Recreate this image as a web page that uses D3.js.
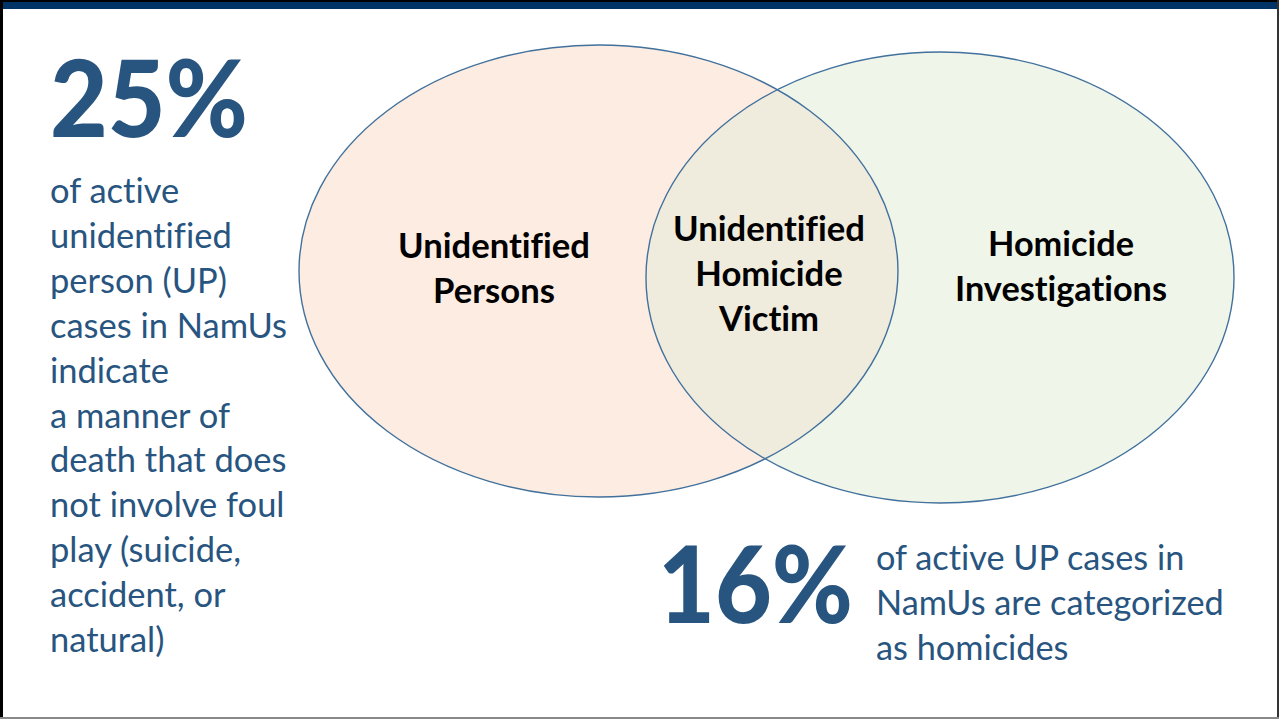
<!DOCTYPE html>
<html>
<head>
<meta charset="utf-8">
<script src="https://cdn.jsdelivr.net/npm/d3@7"></script>
<style>
  html, body { margin: 0; padding: 0; background: #fff; }
  svg { display: block; }
  text { font-variant-ligatures: none; font-feature-settings: "liga" 0, "clig" 0, "dlig" 0; }
</style>
</head>
<body>
<svg id="chart" width="1279" height="719"></svg>
<script>
// ---- data ----
const setNames = ["Unidentified Persons", "Homicide Investigations"];
const setLines = [["Unidentified", "Persons"], ["Homicide", "Investigations"]];
const overlapLines = ["Unidentified", "Homicide", "Victim"];
const statValues = [25, 16];
const statLeftText = ["of active", "unidentified", "person (UP)", "cases in NamUs", "indicate",
  "a manner of", "death that does", "not involve foul", "play (suicide,", "accident, or", "natural)"];
const statRightText = ["of active UP cases in", "NamUs are categorized", "as homicides"];

// ---- layout ----
const W = 1279, H = 719;
const svg = d3.select("#chart");
const textColor = "#28557f";
const stroke = "#41719c";
const fills = ["#fcece2", "#f0f5ea"];
const overlapFill = "#efebdd";

// venn geometry: normalized bounding boxes mapped through scales
const x = d3.scaleLinear().domain([0, 1]).range([299, 1234]);
const y = d3.scaleLinear().domain([0, 1]).range([45, 503]);
const boxes = [
  { x0: 0, x1: 0.6406, y0: 0, y1: 0.9869 },
  { x0: 0.3711, x1: 1, y0: 0.0153, y1: 1 }
];
const ellipses = boxes.map(b => ({
  cx: (x(b.x0) + x(b.x1)) / 2, cy: (y(b.y0) + y(b.y1)) / 2,
  rx: (x(b.x1) - x(b.x0)) / 2, ry: (y(b.y1) - y(b.y0)) / 2
}));

svg.append("rect").attr("x", 0).attr("y", 0).attr("width", W).attr("height", H).attr("fill", "#fff");

const defs = svg.append("defs");
defs.append("clipPath").attr("id", "clipLeft")
  .append("ellipse")
  .attr("cx", ellipses[0].cx).attr("cy", ellipses[0].cy)
  .attr("rx", ellipses[0].rx).attr("ry", ellipses[0].ry);

const g = svg.append("g");
g.selectAll("ellipse.fill").data(ellipses).join("ellipse")
  .attr("class", "fill")
  .attr("cx", d => d.cx).attr("cy", d => d.cy)
  .attr("rx", d => d.rx).attr("ry", d => d.ry)
  .attr("fill", (d, i) => fills[i]);
g.append("ellipse")
  .attr("clip-path", "url(#clipLeft)")
  .attr("cx", ellipses[1].cx).attr("cy", ellipses[1].cy)
  .attr("rx", ellipses[1].rx).attr("ry", ellipses[1].ry)
  .attr("fill", overlapFill);
g.selectAll("ellipse.edge").data(ellipses).join("ellipse")
  .attr("class", "edge")
  .attr("cx", d => d.cx).attr("cy", d => d.cy)
  .attr("rx", d => d.rx).attr("ry", d => d.ry)
  .attr("fill", "none").attr("stroke", stroke).attr("stroke-width", 1.4);

function fit(sel, width) {
  const base = parseFloat(sel.attr("font-size"));
  const w = sel.node().getComputedTextLength();
  sel.attr("font-size", base * width / w);
  return base * width / w;
}
const FONT = "Lato, 'Open Sans', sans-serif";

function labelBlock(lines, cx, baselines, fitWidth, fitIdx) {
  const probe = svg.append("text").attr("font-family", FONT).attr("font-weight", 700)
    .attr("font-size", 30).text(lines[fitIdx]);
  const fs = fit(probe, fitWidth);
  probe.remove();
  svg.append("g").selectAll("text").data(lines).join("text")
    .attr("x", cx).attr("y", (d, i) => baselines[i])
    .attr("text-anchor", "middle")
    .attr("font-family", FONT).attr("font-weight", 700)
    .attr("font-size", fs).attr("fill", "#000")
    .text(d => d);
}
labelBlock(setLines[0], 494, [258, 303], 192, 0);
labelBlock(overlapLines, 769, [241, 286, 331], 192, 0);
labelBlock(setLines[1], 1061, [256, 301], 212, 1);

// big stats: height from font-size, width via textLength
function bigStat(val, x0, base, width) {
  svg.append("text").attr("x", x0).attr("y", base)
    .attr("font-family", FONT).attr("font-weight", 900).attr("font-size", 106)
    .attr("textLength", width).attr("lengthAdjust", "spacingAndGlyphs")
    .attr("fill", textColor).text(val + "%");
}
bigStat(statValues[0], 50, 137, 198);
bigStat(statValues[1], 658, 623, 195);

function para(lines, x0, y0, step, fitIdx, fitWidth) {
  const probe = svg.append("text").attr("font-family", FONT).attr("font-size", 30).text(lines[fitIdx]);
  const fs = fit(probe, fitWidth);
  probe.remove();
  svg.append("g").selectAll("text").data(lines).join("text")
    .attr("x", x0).attr("y", (d, i) => y0 + i * step)
    .attr("font-family", FONT).attr("font-size", fs)
    .attr("fill", textColor).text(d => d);
}
para(statLeftText, 50, 203, 44.9, 3, 237);
para(statRightText, 876, 570, 45, 1, 348);

// slide frame
svg.append("rect").attr("x", 0).attr("y", 0).attr("width", W).attr("height", 2).attr("fill", "#000");
svg.append("rect").attr("x", 0).attr("y", 2).attr("width", W).attr("height", 7).attr("fill", "#003366");
svg.append("rect").attr("x", 0).attr("y", 0).attr("width", 3).attr("height", H).attr("fill", "#000");
svg.append("rect").attr("x", 1277).attr("y", 0).attr("width", 2).attr("height", H).attr("fill", "#333");
svg.append("rect").attr("x", 0).attr("y", 717).attr("width", W).attr("height", 2).attr("fill", "#888");
</script>
</body>
</html>
